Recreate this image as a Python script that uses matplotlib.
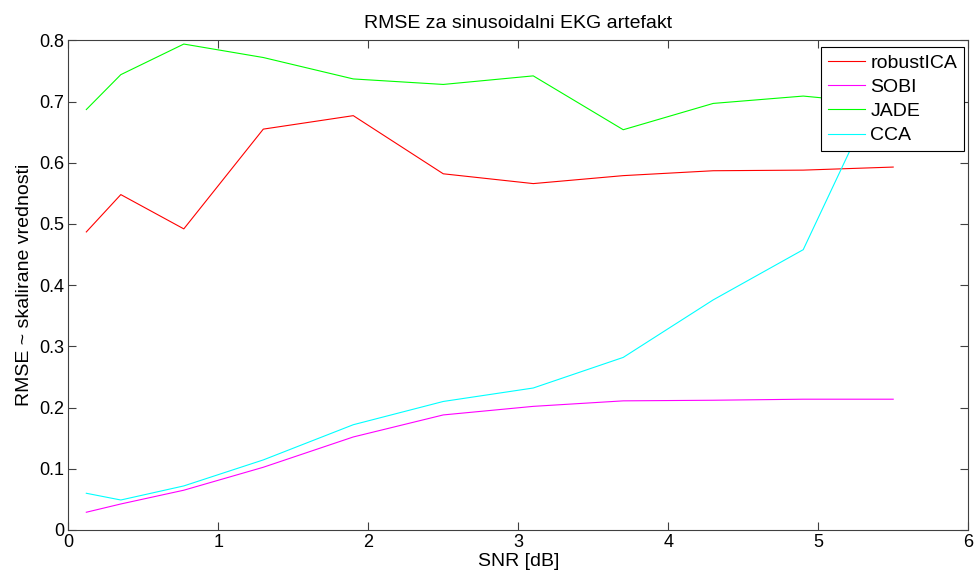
import matplotlib
matplotlib.use("Agg")
import matplotlib.pyplot as plt

# SNR levels [dB] and RMSE per method
snr = [0.12, 0.35, 0.77, 1.3, 1.9, 2.5, 3.1, 3.7, 4.3, 4.9, 5.5]
robust_ica = [0.487, 0.548, 0.492, 0.655, 0.677, 0.582, 0.566, 0.579, 0.587, 0.588, 0.593]
sobi = [0.029, 0.0425, 0.065, 0.1025, 0.152, 0.188, 0.202, 0.211, 0.212, 0.2137, 0.2137]
jade = [0.687, 0.744, 0.794, 0.772, 0.737, 0.728, 0.742, 0.654, 0.697, 0.709, 0.695]
cca = [0.060, 0.049, 0.072, 0.1145, 0.172, 0.210, 0.232, 0.282, 0.376, 0.458, 0.77]

plt.rcParams['font.family'] = ['Liberation Sans', 'DejaVu Sans']

fig = plt.figure(figsize=(9.76, 5.81), dpi=100, facecolor='white')
ax = fig.add_axes([0.070, 0.0878, 0.922, 0.8427])

lw = 0.8
ax.plot(snr, robust_ica, color='#ff0000', lw=lw, label='robustICA')
ax.plot(snr, sobi, color='#ff00ff', lw=lw, label='SOBI')
ax.plot(snr, jade, color='#00ff00', lw=lw, label='JADE')
ax.plot(snr, cca, color='#00ffff', lw=lw, label='CCA')

ax.set_xlim(0, 6)
ax.set_ylim(0, 0.8)
ax.set_xticks(range(7))
ax.set_yticks([0, 0.1, 0.2, 0.3, 0.4, 0.5, 0.6, 0.7, 0.8])
ax.set_yticklabels(['0', '0.1', '0.2', '0.3', '0.4', '0.5', '0.6', '0.7', '0.8'])
ax.tick_params(direction='in', top=True, right=True, length=6, width=0.8,
               labelsize=13, color='#404040', pad=3)
for s in ax.spines.values():
    s.set_color('#404040')
    s.set_linewidth(0.8)

ax.set_title('RMSE za sinusoidalni EKG artefakt', fontsize=14, pad=9)
ax.set_xlabel('SNR [dB]', fontsize=14, labelpad=1)
ax.set_ylabel('RMSE ~ skalirane vrednosti', fontsize=14, labelpad=4)

leg = ax.legend(loc='upper right', bbox_to_anchor=(0.9952, 0.986), borderaxespad=0,
                fontsize=14, fancybox=False, framealpha=1, edgecolor='black',
                handlelength=1.9, handletextpad=0.27, labelspacing=0.34,
                borderpad=0.35)
leg.get_frame().set_linewidth(0.8)

fig.savefig('out.png', dpi=100, facecolor='white')
